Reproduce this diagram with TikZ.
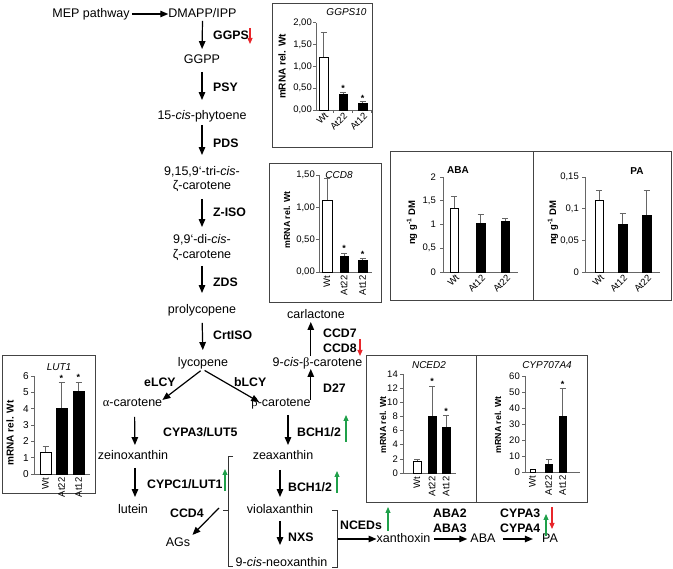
\documentclass[tikz,border=0pt]{standalone}
\usepackage{fontspec}
\setmainfont{Liberation Sans}
\newfontfamily\grk{Liberation Serif}
\usetikzlibrary{arrows.meta}
\definecolor{upg}{HTML}{1FA04A}
\definecolor{downr}{HTML}{E8262B}
\definecolor{axc}{HTML}{666666}
\definecolor{boxc}{HTML}{444444}
\newcommand\cbar[6]{%
  \draw[errc] ({(#1+#2)/2},#4) -- ({(#1+#2)/2},#5) ++(-3,0) -- ++(6,0);
  \filldraw[fill=#6, draw=black, line width=0.6pt] (#1,#3) rectangle (#2,#4);
}
\begin{document}
\begin{tikzpicture}[x=1pt,y=-1pt,
  txt/.style={inner sep=0pt, text height=9pt, text depth=2.5pt, font=\fontsize{12.5}{14}\selectfont},
  enz/.style={inner sep=0pt, text height=9pt, text depth=2.5pt, font=\fontsize{12.3}{14}\selectfont\bfseries, anchor=west},
  arr/.style={line width=1.2pt, -{Triangle[length=8pt,width=6.5pt]}},
  upa/.style={line width=1.1pt, draw=upg, -{Triangle[length=6pt,width=5pt]}},
  downa/.style={line width=1.1pt, draw=downr, -{Triangle[length=6pt,width=5pt]}},
  brk/.style={line width=0.7pt, draw=black!80},
  chartbox/.style={draw=boxc, line width=0.8pt},
  ax/.style={draw=axc, line width=0.7pt},
  errc/.style={draw=axc, line width=0.7pt},
  tk/.style={anchor=east, inner sep=1pt, font=\fontsize{9.5}{10}\selectfont},
  ylab/.style={rotate=90, inner sep=0pt, font=\fontsize{10}{11}\selectfont\bfseries},
  cat/.style={inner sep=0.5pt, anchor=east, font=\fontsize{9.5}{10}\selectfont},
  ctitle/.style={inner sep=0pt, font=\fontsize{10}{11}\selectfont\itshape},
  btitle/.style={inner sep=0pt, font=\fontsize{10}{11}\selectfont\bfseries},
  starn/.style={inner sep=0pt, font=\fontsize{9}{10}\selectfont\bfseries}
]
\useasboundingbox (0,0) rectangle (673,569);

% ---------------- pathway ----------------
\node[txt] (mep) at (91,14) {MEP pathway};
\node[txt] (dmapp) at (202.5,14) {DMAPP/IPP};
\node[txt] (ggpp) at (202,60) {GGPP};
\node[txt] (phyt) at (202,116) {15-\textit{cis}-phytoene};
\node[txt] (tri) at (202,172) {9,15,9‘-tri-\textit{cis}-};
\node[txt] (zc1) at (202,186) {ζ-carotene};
\node[txt] (di) at (202,240) {9,9‘-di-\textit{cis}-};
\node[txt] (zc2) at (202,255) {ζ-carotene};
\node[txt] (prol) at (202,310) {prolycopene};
\node[txt] (lyc) at (203,363) {lycopene};
\node[txt] (acar) at (132.5,403) {{\grk α}-carotene};
\node[txt] (bcar) at (281,403) {{\grk β}-carotene};
\node[txt] (zein) at (133,456) {zeinoxanthin};
\node[txt] (lut) at (133,510) {lutein};
\node[txt] (ags) at (178,543) {AGs};
\node[txt] (zea) at (283,456) {zeaxanthin};
\node[txt] (viol) at (280,510) {violaxanthin};
\node[txt] (neox) at (281.5,563) {9-\textit{cis}-neoxanthin};
\node[txt] (ncb) at (317.5,363) {9-\textit{cis}-{\grk β}-carotene};
\node[txt] (carl) at (316,315) {carlactone};
\node[txt] (xan) at (403.5,539) {xanthoxin};
\node[txt] (aba) at (483,539) {ABA};
\node[txt] (pa) at (550,539) {PA};

% enzymes
\node[enz] (ggps) at (213,36) {GGPS};
\node[enz] (psy) at (213,88) {PSY};
\node[enz] (pds) at (213,144) {PDS};
\node[enz] (ziso) at (213,213) {Z-ISO};
\node[enz] (zds) at (213,283) {ZDS};
\node[enz] (crt) at (213,336) {CrtISO};
\node[enz] (elcy) at (144,383) {eLCY};
\node[enz] (blcy) at (234,383) {bLCY};
\node[enz] (lut5) at (163,433) {CYPA3/LUT5};
\node[enz] (lut1) at (147,485) {CYPC1/LUT1};
\node[enz] (ccd4) at (170,514) {CCD4};
\node[enz] (bch1) at (297,433) {BCH1/2};
\node[enz] (bch2) at (288,488) {BCH1/2};
\node[enz] (nxs) at (288,538) {NXS};
\node[enz] (d27) at (323,389) {D27};
\node[enz] (ccd7) at (323,334) {CCD7};
\node[enz] (ccd8) at (323,349) {CCD8};
\node[enz] (nceds) at (340,526) {NCEDs};
\node[enz] (aba2) at (433,514) {ABA2};
\node[enz] (aba3) at (433,529) {ABA3};
\node[enz] (cypa3) at (500,514) {CYPA3};
\node[enz] (cypa4) at (500,529) {CYPA4};

% connectors
\draw[arr, shorten <=2pt] (mep) -- (dmapp);
\draw[arr, shorten <=1pt, shorten >=5pt] (dmapp.south) -- (ggpp.north);
\draw[arr, shorten <=6pt, shorten >=10pt] (ggpp.south) -- (phyt.north);
\draw[arr, shorten <=3pt, shorten >=11pt] (phyt.south) -- (tri.north);
\draw[arr, shorten <=7pt, shorten >=7pt] (zc1.south) -- (di.north);
\draw[arr, shorten <=5pt, shorten >=11pt] (zc2.south) -- (prol.north);
\draw[arr, shorten <=7pt, shorten >=7pt] (prol.south) -- (lyc.north);
\draw[arr, shorten <=3pt] (lyc.south) -- ([yshift=3pt]acar.east);
\draw[arr, shorten <=3pt] ([xshift=-1pt]lyc.south) -- ([xshift=8pt,yshift=1pt]bcar.west);
\draw[arr, shorten <=8pt, shorten >=5pt] ([xshift=2pt]acar.south) -- ([xshift=2pt]zein.north);
\draw[arr, shorten <=6pt, shorten >=7pt] ([xshift=2pt]zein.south) -- ([xshift=2pt]lut.north);
\draw[arr, shorten <=6pt, shorten >=5pt] ([xshift=7pt]bcar.south) -- ([xshift=5pt]zea.north);
\draw[arr, shorten <=8pt, shorten >=7pt] ([xshift=-3pt]zea.south) -- (viol.north);
\draw[arr, shorten <=5pt, shorten >=12pt] (viol.south) -- ([xshift=-1.5pt]neox.north);
\draw[arr, shorten <=3pt] (bcar.east) -- (bcar.east |- ncb.south);
\draw[arr, shorten <=1pt, shorten >=1pt] (ncb.north -| bcar.east) -- (carl.south -| bcar.east);
\coordinate (lbm) at (219,508);
\draw[arr, shorten >=3pt] (lbm) -- (ags.north east);
\coordinate (rbm) at (337,539);
\draw[arr] (rbm) -- (xan.west);
\draw[arr, shorten <=4pt, shorten >=3pt] (xan.east) -- (aba.west);
\draw[arr, shorten <=7pt, shorten >=9pt] (aba.east) -- (pa.west);

% brackets
\draw[brk] (233,456) -- (228,456) -- (228,566) -- (233,566);
\draw[brk] (223,510) -- (228,510);
\draw[brk] (332,510) -- (337,510) -- (337,567) -- (332,567);

% regulation arrows
\draw[downa] (250,28) -- (250,44);
\draw[downa] (360,339) -- (360,356);
\draw[downa] (552,507) -- (552,529);
\draw[upa] (225,491) -- (225,469);
\draw[upa] (346,442) -- (346,415);
\draw[upa] (337,493) -- (337,471);
\draw[upa] (388,531) -- (388,507);
\draw[upa] (546,536) -- (546,514);

% ---------------- GGPS10 chart ----------------
\draw[chartbox] (272,3) rectangle (372,147);
\node[ctitle] (t1) at (346.5,12) {GGPS10};
\node[ylab] (y1) at (282,66.5) {mRNA rel. Wt};
\foreach \yy/\lab in {110/{0,00},88.15/{0,50},66.3/{1,00},44.45/{1,50},22.6/{2,00}}{
  \draw[ax] (313,\yy) -- (316,\yy);
  \node[tk] at (313,\yy) {\lab};}
\draw[ax] (316,22.6) -- (316,110) -- (371,110);
\foreach \xx in {333.5,352.5,371}{\draw[ax] (\xx,110) -- (\xx,113);}
\cbar{319}{328}{110}{57.1}{32.2}{white}
\cbar{339}{347}{110}{94.3}{92.1}{black}
\cbar{358}{367}{110}{103}{101.7}{black}
\node[starn] at (343,88) {*};
\node[starn] at (362.5,98) {*};
\node[cat, rotate=45] at (327,114) {Wt};
\node[cat, rotate=45] at (346,114) {At22};
\node[cat, rotate=45] at (366,114) {At12};

% ---------------- CCD8 chart ----------------
\draw[chartbox] (269,163) rectangle (381,302);
\node[ctitle] (t2) at (339,175) {CCD8};
\node[ylab, font=\fontsize{8.8}{10}\selectfont\bfseries] (y2) at (287,220) {mRNA rel. Wt};
\foreach \yy/\lab in {272/{0,00},239.65/{0,50},207.3/{1,00},175/{1,50}}{
  \draw[ax] (316,\yy) -- (319,\yy);
  \node[tk] at (316,\yy) {\lab};}
\draw[ax] (319,175) -- (319,272) -- (372,272);
\cbar{322}{332}{272}{200.8}{178.8}{white}
\cbar{340}{348}{272}{256.5}{253.2}{black}
\cbar{358}{367}{272}{260.4}{258.4}{black}
\node[starn] at (344,248.5) {*};
\node[starn] at (362.5,254) {*};
\node[cat, rotate=90] at (327,275) {Wt};
\node[cat, rotate=90] at (344,275) {At22};
\node[cat, rotate=90] at (362.5,275) {At12};

% ---------------- ABA chart ----------------
\draw[chartbox] (390,151) rectangle (533,300);
\node[btitle] (t3) at (458,170) {ABA};
\node[ylab, font=\fontsize{9.5}{10}\selectfont\bfseries] (y3) at (412,223) {ng g\textsuperscript{-1} DM};
\foreach \yy/\lab in {272/{0},248.25/{0,5},224.5/{1},200.75/{1,5},177/{2}}{
  \draw[ax] (440,\yy) -- (443,\yy);
  \node[tk] at (437,\yy) {\lab};}
\draw[ax] (443,177) -- (443,272) -- (518,272);
\cbar{450}{458}{272}{207.9}{196}{white}
\cbar{476}{485}{272}{223.5}{214.5}{black}
\cbar{501}{509}{272}{221.2}{218.3}{black}
\node[cat, rotate=45] at (458,276) {Wt};
\node[cat, rotate=45] at (484,276) {At12};
\node[cat, rotate=45] at (509,276) {At22};

% ---------------- PA chart ----------------
\draw[chartbox] (533,151) rectangle (671,300);
\node[btitle] (t4) at (637,171) {PA};
\node[ylab, font=\fontsize{9.5}{10}\selectfont\bfseries] (y4) at (553,223) {ng g\textsuperscript{-1} DM};
\foreach \yy/\lab in {272/{0},240.3/{0,05},208.7/{0,1},177/{0,15}}{
  \draw[ax] (582,\yy) -- (585,\yy);
  \node[tk] at (580,\yy) {\lab};}
\draw[ax] (585,177) -- (585,272) -- (660,272);
\cbar{595}{603}{272}{200.4}{190.3}{white}
\cbar{618}{627}{272}{224.5}{213.7}{black}
\cbar{642}{651}{272}{215.6}{190.3}{black}
\node[cat, rotate=45] at (603,276) {Wt};
\node[cat, rotate=45] at (626,276) {At12};
\node[cat, rotate=45] at (650,276) {At22};

% ---------------- LUT1 chart ----------------
\draw[chartbox] (2,355) rectangle (95,493);
\node[ctitle] (t5) at (59,367) {LUT1};
\node[ylab] (y5) at (10,433) {mRNA rel. Wt};
\foreach \k in {0,...,6}{
  \draw[ax] (31,{474-\k*16.33}) -- (34,{474-\k*16.33});
  \node[tk, font=\fontsize{10}{11}\selectfont] at (30,{474-\k*16.33}) {\k};}
\draw[ax] (34,376) -- (34,474) -- (90,474);
\cbar{40}{51}{474}{452.8}{446.3}{white}
\cbar{56}{67}{474}{408}{382.7}{black}
\cbar{73}{84}{474}{390.9}{381.9}{black}
\node[starn] at (61.5,378) {*};
\node[starn] at (78.5,377) {*};
\node[cat, rotate=90] at (45.5,477) {Wt};
\node[cat, rotate=90] at (61.5,477) {At22};
\node[cat, rotate=90] at (78.5,477) {At12};

% ---------------- NCED2 chart ----------------
\draw[chartbox] (366,355) rectangle (476,502);
\node[ctitle] (t6) at (429,365) {NCED2};
\node[ylab, font=\fontsize{8.8}{10}\selectfont\bfseries] (y6) at (383,425) {mRNA rel. Wt};
\foreach \k in {0,2,...,14}{
  \draw[ax] (400,{473-\k*7.07}) -- (403,{473-\k*7.07});
  \node[tk] at (399,{473-\k*7.07}) {\k};}
\draw[ax] (403,374) -- (403,473) -- (456,473);
\cbar{413}{421}{473}{461.7}{458.9}{white}
\cbar{428}{436}{473}{416.4}{386}{black}
\cbar{442}{450}{473}{427}{415.7}{black}
\node[starn] at (432,381) {*};
\node[starn] at (446,411) {*};
\node[cat, rotate=90] at (417,476) {Wt};
\node[cat, rotate=90] at (432,476) {At22};
\node[cat, rotate=90] at (446,476) {At12};

% ---------------- CYP707A4 chart ----------------
\draw[chartbox] (476,355) rectangle (587,502);
\node[ctitle] (t7) at (547,365) {CYP707A4};
\node[ylab, font=\fontsize{8.8}{10}\selectfont\bfseries] (y7) at (498,425) {mRNA rel. Wt};
\foreach \k in {0,10,...,60}{
  \draw[ax] (522,{472-\k*1.6}) -- (525,{472-\k*1.6});
  \node[tk] at (521,{472-\k*1.6}) {\k};}
\draw[ax] (525,376) -- (525,472) -- (580,472);
\filldraw[fill=white, draw=black, line width=0.6pt] (530,472) rectangle (535,469.6);
\cbar{545}{552}{472}{464}{459.2}{black}
\cbar{559}{566}{472}{416}{388.8}{black}
\node[starn] at (562.5,384) {*};
\node[cat, rotate=90] at (532.5,475) {Wt};
\node[cat, rotate=90] at (548.5,475) {At22};
\node[cat, rotate=90] at (562.5,475) {At12};
\end{tikzpicture}
\end{document}
